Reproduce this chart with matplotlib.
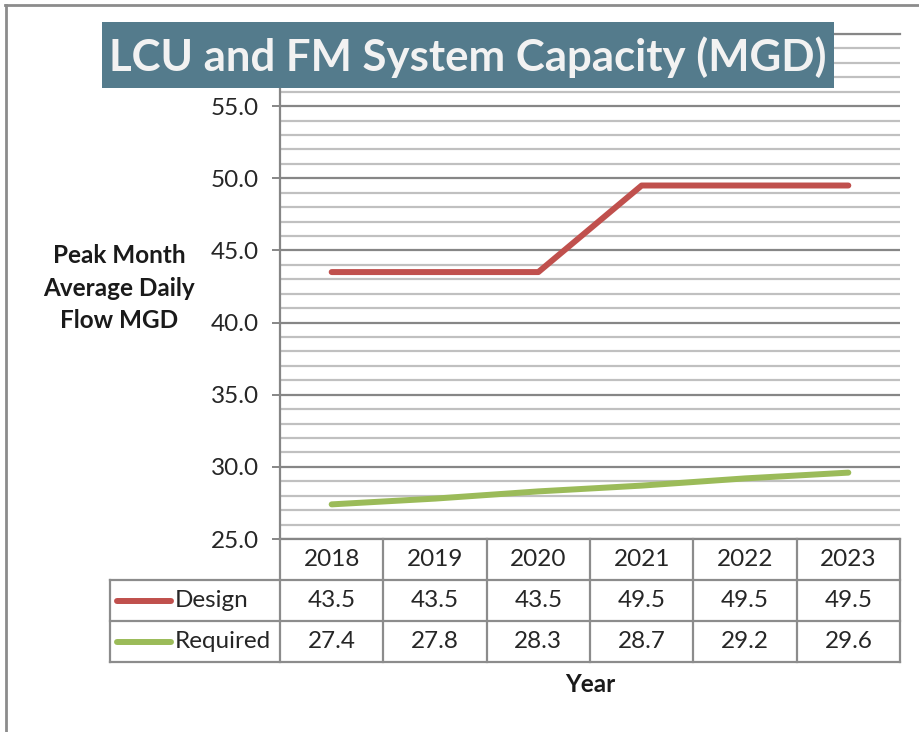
import numpy as np
import matplotlib.pyplot as plt
from matplotlib.transforms import blended_transform_factory
from matplotlib.lines import Line2D
from matplotlib.patches import Rectangle

# data
years = ["2018", "2019", "2020", "2021", "2022", "2023"]
design = [43.5, 43.5, 43.5, 49.5, 49.5, 49.5]
required = [27.4, 27.8, 28.3, 28.7, 29.2, 29.6]
series = ["Design", "Required"]
colors = ["#C0504D", "#9BBB59"]
ylim = (25, 60)
ylabels = [25, 30, 35, 40, 45, 50, 55]

W, H = 919, 732
def fx(p):
    return p / W
def fy(p):
    return 1 - p / H

plt.rcParams['font.family'] = ['Lato', 'DejaVu Sans']
grid_dark = "#868686"
grid_light = "#C0C0C0"
table_c = "#8C8C8C"
fs = 17.5

fig = plt.figure(figsize=(W / 100, H / 100), dpi=100)
ax = fig.add_axes([fx(280), fy(539), fx(900) - fx(280), fy(34) - fy(539)])

x = np.arange(len(years))
for vals, c in zip([design, required], colors):
    ax.plot(x, vals, color=c, lw=4.3, solid_capstyle='round', zorder=3)

ax.set_xlim(-0.5, len(years) - 0.5)
ax.set_ylim(*ylim)
ax.set_yticks(ylabels)
ax.set_yticklabels([f"{v:.1f}" for v in ylabels])
ax.set_yticks(np.arange(ylim[0], ylim[1] + 1, 1), minor=True)
ax.set_xticks([])
ax.grid(which='minor', axis='y', color=grid_light, lw=1.6)
ax.grid(which='major', axis='y', color=grid_dark, lw=1.6)
ax.tick_params(axis='y', which='major', length=6, width=1.4, color=grid_dark,
               labelsize=fs, labelcolor='#262626', pad=9)
ax.tick_params(axis='y', which='minor', length=0)
ax.spines['right'].set_visible(False)
for s in ['left', 'bottom', 'top']:
    ax.spines[s].set_color(grid_dark)
    ax.spines[s].set_linewidth(1.6)
ax.set_axisbelow(True)

# data table under the axis
blend = blended_transform_factory(ax.transData, fig.transFigure)
rows_y = [539, 580, 621, 662]
for i in range(len(years) + 1):
    fig.add_artist(Line2D([i - 0.5, i - 0.5], [fy(539), fy(662)], transform=blend,
                          color=table_c, lw=1.6))
for yy in rows_y[1:]:
    fig.add_artist(Line2D([fx(110), fx(900)], [fy(yy), fy(yy)], color=table_c, lw=1.6))
fig.add_artist(Line2D([fx(110), fx(110)], [fy(580), fy(662)], color=table_c, lw=1.6))

for i, yr in enumerate(years):
    fig.text(i, fy(559), yr, transform=blend, ha='center', va='center',
             fontsize=fs, color='#262626')
for r, (name, vals, c) in enumerate(zip(series, [design, required], colors)):
    yc = (rows_y[r + 1] + rows_y[r + 2]) / 2
    for i, v in enumerate(vals):
        fig.text(i, fy(yc), f"{v:.1f}", transform=blend, ha='center', va='center',
                 fontsize=fs, color='#262626')
    fig.add_artist(Line2D([fx(117), fx(171)], [fy(yc), fy(yc)], color=c, lw=4.3,
                          solid_capstyle='round'))
    fig.text(fx(175), fy(yc), name, ha='left', va='center', fontsize=fs, color='#262626')

fig.text(fx(590), fy(685), "Year", ha='center', va='center', fontsize=fs,
         fontweight='bold', color='#1a1a1a')
fig.text(fx(119), fy(288), "Peak Month\nAverage Daily\nFlow MGD", ha='center',
         va='center', fontsize=fs, fontweight='bold', color='#1a1a1a', linespacing=1.5)

# title box
fig.add_artist(Rectangle((fx(102), fy(88)), fx(834) - fx(102), fy(22) - fy(88),
                         transform=fig.transFigure, facecolor='#547B8C',
                         edgecolor='none', zorder=5))
fig.text(fx(468), fy(57), "LCU and FM System Capacity (MGD)", ha='center', va='center',
         fontsize=31.5, fontweight='bold', color='#F2F2F2', zorder=6)

# page frame
fig.add_artist(Line2D([fx(5), 1], [fy(5), fy(5)], color='#8C8C8C', lw=2))
fig.add_artist(Line2D([fx(6), fx(6)], [fy(5), 0], color='#8C8C8C', lw=2))

fig.savefig("out.png", dpi=100)
